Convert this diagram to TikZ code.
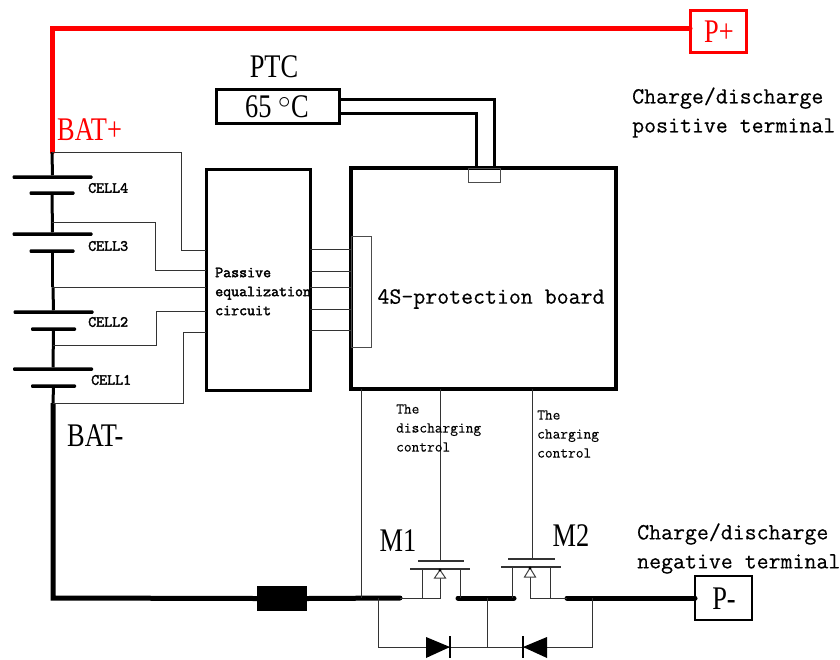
\documentclass[tikz,border=0pt]{standalone}
\usepackage{fontspec}
\setmainfont{Liberation Serif}
\setmonofont[FakeBold=0.4]{Latin Modern Mono}
\newfontfamily\smallbold[FakeBold=2.4]{Latin Modern Mono}
\newfontfamily\narrowserif[FakeStretch=0.8]{Liberation Serif}

\begin{document}
\begin{tikzpicture}[x=1pt,y=-1pt,line join=miter,
  wire/.style={line width=3pt},
  power/.style={line width=5pt,line cap=round},
  signal/.style={line width=1pt,draw=black!80},
  plate/.style={fill=black,inner sep=0pt,outer sep=0pt,minimum height=3.5pt,rounded corners=1pt},
  gatebar/.style={fill=black!80,inner sep=0pt,outer sep=0pt,minimum height=1.2pt},
  box/.style={draw,inner sep=0pt,outer sep=0pt,line width=3pt},
  tiny/.style={draw=black!70,inner sep=0pt,outer sep=0pt,line width=1pt},
  big/.style={font=\narrowserif\fontsize{33}{33}\selectfont,inner sep=0pt},
  mono/.style={font=\ttfamily\fontsize{23.2}{29}\selectfont,inner sep=0pt},
  note/.style={font=\ttfamily\fontsize{15}{19}\selectfont,inner sep=0pt,align=left,anchor=west},
  boldnote/.style={font=\smallbold\fontsize{15.5}{19}\selectfont,inner sep=0pt,align=left,anchor=west}]
\useasboundingbox (0,0) rectangle (840,659);

\node[box,draw=red,minimum width=56pt,minimum height=42pt] (pplus) at (718,31) {};
\node[big,red] (pplustxt) at (719,32) {P+};
\node[box,minimum width=57pt,minimum height=44pt,line width=2.5pt] (pminus) at (723.5,598) {};
\node[big] (pminustxt) at (724,599) {P-};
\node[box,minimum width=123pt,minimum height=34pt] (ptc) at (277.5,106) {};
\node[big] (ptctxt) at (274,67) {PTC};
\node[big] (ptcval) at (277,107) {65 $^{\circ}$C};
\node[box,minimum width=104pt,minimum height=221pt] (equal) at (258,279.5) {};
\node[box,line width=4pt,minimum width=265pt,minimum height=221pt] (board) at (483.5,278.5) {};
\node[tiny,minimum width=20pt,minimum height=111pt] (conn) at (361.5,291.5) {};
\node[tiny,minimum width=32pt,minimum height=14pt] (sock) at (484,175) {};
\node[fill=black,inner sep=0pt,outer sep=0pt,minimum width=50pt,minimum height=25pt] (fuse) at (282,598.5) {};

\node[plate,minimum width=80pt] (c4a) at (52.5,177) {};
\node[plate,minimum width=45pt] (c4b) at (52,193) {};
\node[plate,minimum width=80pt] (c3a) at (52.5,234) {};
\node[plate,minimum width=45pt] (c3b) at (52,251) {};
\node[plate,minimum width=80pt] (c2a) at (53.5,312) {};
\node[plate,minimum width=45pt] (c2b) at (53.5,329) {};
\node[plate,minimum width=80pt] (c1a) at (53,369) {};
\node[plate,minimum width=45pt] (c1b) at (53.5,386) {};

\coordinate (bplus) at (52,152);
\coordinate (bminus) at (53,403);
\coordinate (tap3) at (52,222);
\coordinate (tap2) at (52,287);
\coordinate (tap2b) at (53,287);
\coordinate (tap1) at (53,345);
\coordinate (corner) at (53,598);
\coordinate (top) at (52,28);

\draw[line width=5pt,red,line cap=round] (bplus) -- (top) -- (pplus.west |- top);
\draw[wire] (bplus) -- (c4a);
\draw[wire] (c4b) -- (c3a);
\draw[wire] (c3b) -- (tap2);
\draw[wire] (tap2b) -- (c2a);
\draw[wire] (c2b) -- (c1a);
\draw[wire] (c1b) -- (bminus);
\draw[line width=5pt] (bminus) -- (corner) -- (fuse.west);

\draw[signal] (bplus) -- ++(129,0) |- (equal.west |- 0,250);
\draw[signal] (tap3) -- ++(103,0) |- (equal.west |- 0,270);
\draw[signal] (tap2) -- (equal.west |- tap2);
\draw[signal] (tap1) -- ++(103,0) |- (equal.west |- 0,311);
\draw[signal] (bminus) -- ++(130,0) |- (equal.west |- 0,332);

\draw[signal] (equal.east |- 0,249) -- (board.west |- 0,249);
\draw[signal] (equal.east |- 0,271) -- (board.west |- 0,271);
\draw[signal] (equal.east |- 0,287) -- (board.west |- 0,287);
\draw[signal] (equal.east |- 0,309) -- (board.west |- 0,309);
\draw[signal] (equal.east |- 0,330) -- (board.west |- 0,330);

\draw[wire] (ptc.east |- 0,99) -| (board.north -| 494,0);
\draw[wire] (ptc.east |- 0,113) -| (board.north -| 476,0);

% transistors
\node[gatebar,minimum width=46pt] (g1) at (441,561) {};
\node[gatebar,minimum width=60pt] (ch1) at (440,569) {};
\node[gatebar,minimum width=47pt] (g2) at (531.5,559) {};
\node[gatebar,minimum width=60pt] (ch2) at (531,567) {};
\coordinate (d1) at (400,598);
\coordinate (d1b) at (361,598);
\coordinate (mid1) at (458,598);
\coordinate (mid2) at (514,598);
\coordinate (d2) at (567,598);
\coordinate (d2b) at (530,598);

\draw[power] (fuse.east) -- (d1);
\draw[power] (mid1) -- (mid2);
\draw[power] (d2) -- (pminus.west |- d2);

\draw[signal] (board.south -| 361,0) -- (d1b);
\draw[signal] (board.south -| 440,0) -- (g1.north -| 440,0);
\draw[signal] (board.south -| 532,0) -- (g2.north -| 532,0);

\draw[signal] (d1) -- (440,598) -- (ch1.south -| 440,0);
\draw[signal] (ch1.south -| 422,0) -- (422,598);
\draw[signal] (ch1.south -| 460,0) -- (mid1 -| 460,0);
\draw[signal] (ch2.south -| 512,0) -- (mid2 -| 512,0);
\draw[signal] (d2) -- (d2b) -- (ch2.south -| 530,0);
\draw[signal] (ch2.south -| 550.5,0) -- (550.5,598);
\draw[line width=1pt,draw=black!75,fill=white] (440,570) -- (434.5,578) -- (445.5,578) -- cycle;
\draw[line width=1pt,draw=black!75,fill=white] (530,568) -- (524.5,577) -- (535.5,577) -- cycle;
\fill (440,570) circle (1.6pt);
\fill (530,568) circle (1.6pt);

% diodes
\coordinate (dl) at (378,598);
\coordinate (dm) at (487,598);
\coordinate (dr) at (592,598);
\draw[signal] (dl) |- (dm |- 0,647);
\draw[signal] (dm) -- (dm |- 0,647);
\draw[signal] (dr) |- (dm |- 0,647);
\fill (426,637) -- (450,647) -- (426,658) -- cycle;
\draw[line width=2.5pt] (450,636) -- (450,658);
\fill (547,637) -- (523,647) -- (547,658) -- cycle;
\draw[line width=2.5pt] (523,636) -- (523,658);

\node[big,red,anchor=west] (batp) at (57,130) {BAT+};
\node[big,anchor=west] (batm) at (67,436) {BAT-};
\node[big] (m1) at (398,541) {M1};
\node[big] (m2) at (571,536) {M2};

\node[boldnote] (cell4) at (88,188) {CELL4};
\node[boldnote] (cell3) at (88,246) {CELL3};
\node[boldnote] (cell2) at (88,322) {CELL2};
\node[boldnote] (cell1) at (91,380) {CELL1};
\node[boldnote] (equaltxt) at (215,291.5) {Passive\\equalization\\circuit};
\node[mono] (boardtxt) at (491,299) {4S-protection board};
\node[note] (distxt) at (396,428) {The\\discharging\\control};
\node[note] (chgtxt) at (537,434) {The\\charging\\control};
\node[mono,anchor=west,align=left] (postxt) at (632,112.5) {Charge/discharge\\positive terminal};
\node[mono,anchor=west,align=left] (negtxt) at (637,548.5) {Charge/discharge\\negative terminal};
\end{tikzpicture}
\end{document}
